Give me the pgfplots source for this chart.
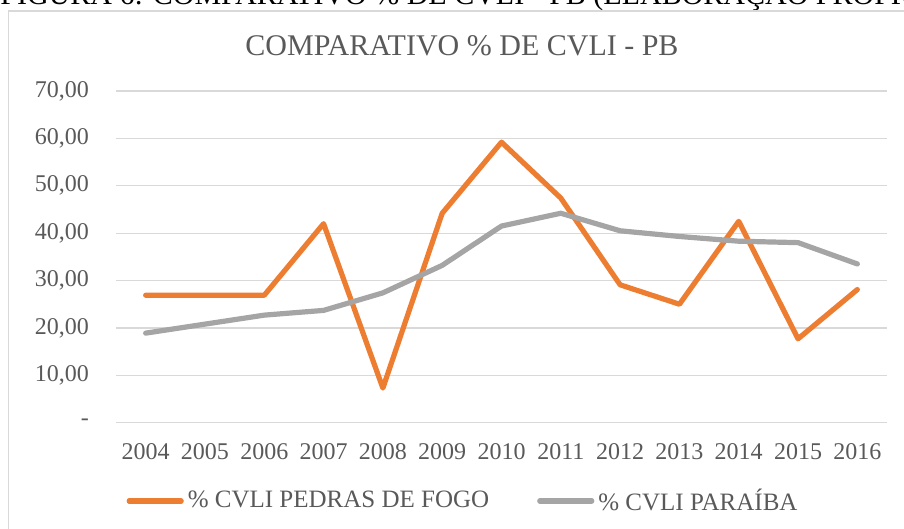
\documentclass[border=0pt]{standalone}
\usepackage{fontspec}
\setmainfont{Liberation Serif}
\usepackage{pgfplots}
\pgfplotsset{compat=1.18}

\definecolor{cvorange}{HTML}{ED7D31}
\definecolor{cvgray}{HTML}{A5A5A5}
\definecolor{txtgray}{HTML}{595959}
\definecolor{gridgray}{HTML}{D9D9D9}

% % CVLI, Pedras de Fogo and Paraiba, 2004--2016 (index 0 = 2004)
\pgfplotstableread{
x  pedras  paraiba
0  26.9   18.9
1  26.9   20.8
2  26.9   22.7
3  42.0   23.7
4   7.3   27.4
5  44.2   33.2
6  59.2   41.5
7  47.4   44.2
8  29.1   40.5
9  25.0   39.3
10 42.5   38.3
11 17.7   38.0
12 28.1   33.5
}\cvlidata

\begin{document}
\begin{tikzpicture}
\useasboundingbox (0,0) rectangle (452pt,264.5pt);
\clip (0,0) rectangle (452pt,264.5pt);

% caption of the page, cut off by the top edge
\node[anchor=base west, inner sep=0pt, font=\fontsize{15}{17}\selectfont]
  at (0pt,262.3pt) {FIGURA 6: COMPARATIVO \% DE CVLI - PB (ELABORAÇÃO PRÓPRIA)};

% chart area frame
\draw[gridgray, line width=0.6pt] (4.2pt,259pt) -- (470pt,259pt)
  (4.2pt,259pt) -- (4.2pt,-10pt);

\node[anchor=base, inner sep=0pt, text=txtgray, font=\fontsize{15}{17}\selectfont]
  at (231pt,236.5pt) {COMPARATIVO \% DE CVLI - PB};

\begin{axis}[
  at={(58pt,53.15pt)}, anchor=south west,
  scale only axis,
  width=385.5pt, height=165.85pt,
  xmin=-0.5, xmax=12.5, ymin=0, ymax=70,
  axis line style={draw=none},
  xtick={0,...,12},
  xticklabels={2004,2005,2006,2007,2008,2009,2010,2011,2012,2013,2014,2015,2016},
  ytick={0,10,...,70},
  yticklabels={-\hspace{9pt},{10,00},{20,00},{30,00},{40,00},{50,00},{60,00},{70,00}},
  major tick length=0pt,
  ymajorgrids,
  grid style={gridgray, line width=0.6pt},
  ticklabel style={text=txtgray, font=\fontsize{12}{14}\selectfont},
  yticklabel style={xshift=-10pt},
  xticklabel style={yshift=-7pt},
  legend columns=2,
  legend style={draw=none, fill=none, at={(0.4514,-0.236)}, anchor=center,
    font=\fontsize{12.5}{14}\selectfont, text=txtgray,
    /tikz/every even column/.append style={column sep=22pt}},
  legend image code/.code={\draw[#1, line cap=round] (0pt,0pt) -- (26pt,0pt);},
]
\addplot[cvorange, line width=2.6pt, line join=round, line cap=round] table[x=x, y=pedras] {\cvlidata};
\addlegendentry{\% CVLI PEDRAS DE FOGO}
\addplot[cvgray, line width=2.6pt, line join=round, line cap=round] table[x=x, y=paraiba] {\cvlidata};
\addlegendentry{\% CVLI PARAÍBA}
\end{axis}
\end{tikzpicture}
\end{document}
